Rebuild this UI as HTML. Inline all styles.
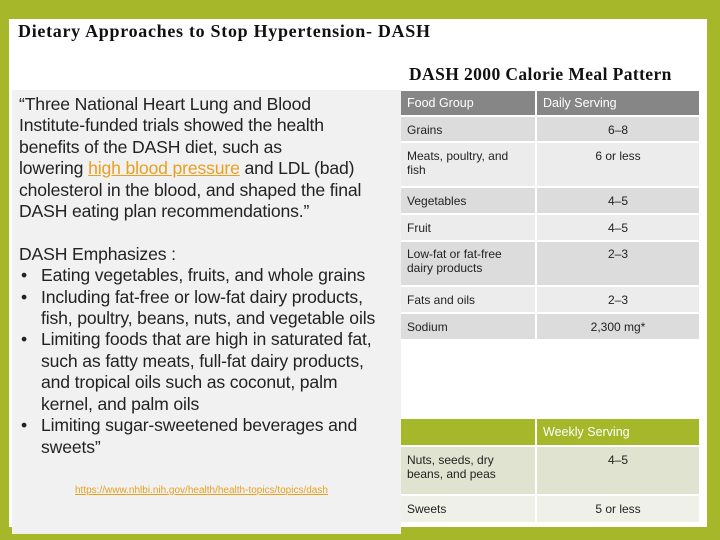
<!DOCTYPE html><html><head><style>
body{margin:0;width:720px;height:540px;background:#a6b72a;position:relative;overflow:hidden;font-family:"Liberation Sans",sans-serif}
.w{position:absolute;left:9px;top:19px;width:698px;height:508px;background:#fff}
.g{position:absolute;left:12px;top:90px;width:389px;height:444px;background:#f1f1f1}
.t1{position:absolute;left:18px;top:21px;font:bold 18px "Liberation Serif",serif;color:#111;letter-spacing:0.7px}
.t2{position:absolute;left:409px;top:64px;font:bold 17.5px "Liberation Serif",serif;color:#111;letter-spacing:0.4px}
.txt{position:absolute;left:19px;top:94px;width:385px;font-size:17.6px;line-height:21.4px;color:#222;white-space:nowrap;letter-spacing:-0.15px}
.txt ul{margin:0;padding:0;list-style:none}
.txt li{position:relative;padding-left:22px}
.txt li:before{content:"•";position:absolute;left:2px}
a{color:#e8a020}
table{position:absolute;border-collapse:separate;border-spacing:0;font-size:12px;color:#222}
td{padding:0 6px;vertical-align:top;border-bottom:2px solid #fff;border-right:2px solid #fff}
td:nth-child(2){text-align:center}
.h td{color:#fff;vertical-align:middle;font-size:12.5px}
</style></head><body>
<div class="w"></div><div class="g"></div>
<div class="t1">Dietary Approaches to Stop Hypertension- DASH</div>
<div class="t2">DASH 2000 Calorie Meal Pattern</div>
<div class="txt">“Three National Heart Lung and Blood<br>Institute-funded trials showed the health<br>benefits of the DASH diet, such as<br>lowering <a style="text-decoration:underline">high blood pressure</a> and LDL (bad)<br>cholesterol in the blood, and shaped the final<br>DASH eating plan recommendations.”<br><br>DASH Emphasizes :
<ul><li>Eating vegetables, fruits, and whole grains</li><li>Including fat-free or low-fat dairy products,<br>fish, poultry, beans, nuts, and vegetable oils</li><li>Limiting foods that are high in saturated fat,<br>such as fatty meats, full-fat dairy products,<br>and tropical oils such as coconut, palm<br>kernel, and palm oils</li><li>Limiting sugar-sweetened beverages and<br>sweets”</li></ul>
<div style="font-size:10px;line-height:12px;margin-top:27px;padding-left:56px;letter-spacing:0"><a style="text-decoration:underline">https://www.nhlbi.nih.gov/health/health-topics/topics/dash</a></div></div>
<table style="left:401px;top:91px;width:300px">
<tr class="h" style="background:#868686;height:26px"><td style="width:122px">Food Group</td><td style="text-align:left">Daily Serving</td></tr>
<tr style="background:#dcdcdc;height:26px"><td style="padding-top:6px">Grains</td><td style="padding-top:6px">6–8</td></tr>
<tr style="background:#ececec;height:45px"><td style="padding-top:6px">Meats, poultry, and fish</td><td style="padding-top:6px">6 or less</td></tr>
<tr style="background:#dcdcdc;height:27px"><td style="padding-top:6px">Vegetables</td><td style="padding-top:6px">4–5</td></tr>
<tr style="background:#ececec;height:27px"><td style="padding-top:6px">Fruit</td><td style="padding-top:6px">4–5</td></tr>
<tr style="background:#dcdcdc;height:45px"><td style="padding-top:5px">Low-fat or fat-free dairy products</td><td style="padding-top:5px">2–3</td></tr>
<tr style="background:#ececec;height:27px"><td style="padding-top:6px">Fats and oils</td><td style="padding-top:6px">2–3</td></tr>
<tr style="background:#dcdcdc;height:27px"><td style="padding-top:6px">Sodium</td><td style="padding-top:6px">2,300 mg*</td></tr>
</table>
<table style="left:401px;top:419px;width:300px">
<tr class="h" style="background:#a4b82a;height:28px"><td style="width:122px"></td><td style="text-align:left">Weekly Serving</td></tr>
<tr style="background:#dfe3cf;height:49px"><td style="padding-top:6px">Nuts, seeds, dry beans, and peas</td><td style="padding-top:6px">4–5</td></tr>
<tr style="background:#eff1e8;height:28px"><td style="padding-top:6px">Sweets</td><td style="padding-top:6px">5 or less</td></tr>
</table>
</body></html>
